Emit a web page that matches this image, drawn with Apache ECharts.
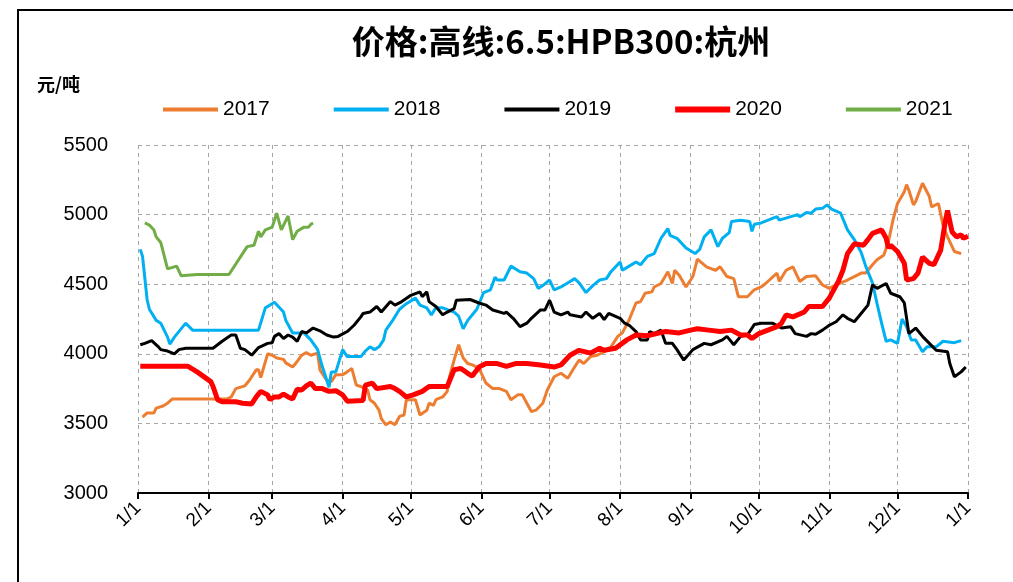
<!DOCTYPE html>
<html>
<head>
<meta charset="utf-8">
<script src="https://cdn.jsdelivr.net/npm/echarts@6/dist/echarts.min.js"></script>
<style>
  html, body { margin: 0; padding: 0; background: #fff; }
  #chart { width: 1013px; height: 582px; }
</style>
</head>
<body>
<div id="chart"></div>
<script>
// month starts (day of year, non-leap) and their tick labels
var monthStarts = [0, 31, 59, 90, 120, 151, 181, 212, 243, 273, 304, 334, 365]
var monthLabels = ['1/1', '2/1', '3/1', '4/1', '5/1', '6/1', '7/1', '8/1', '9/1', '10/1', '11/1', '12/1', '1/1']

var seriesNames = ['2017', '2018', '2019', '2020', '2021']
var seriesColors = ['#ED7D31', '#00B0F0', '#000000', '#FF0000', '#70AD47']

// [day of year, 元/吨]
var data2017 = [[2,3545],[4,3575],[7,3575],[8,3610],[11,3625],[13,3645],[15,3675],[39,3675],[41,3690],[43,3750],[47,3770],[49,3810],[52,3885],[53,3885],[54,3830],[57,4000],[59,3990],[61,3970],[64,3960],[65,3935],[68,3905],[70,3945],[72,3990],[74,4010],[76,3990],[79,4005],[80,3885],[83,3810],[85,3800],[87,3850],[90,3850],[92,3870],[94,3895],[96,3775],[98,3765],[101,3740],[102,3670],[104,3645],[106,3595],[107,3535],[109,3490],[111,3510],[113,3490],[115,3550],[117,3560],[118,3670],[122,3670],[124,3560],[127,3595],[128,3645],[130,3630],[131,3670],[134,3690],[136,3730],[137,3835],[139,3955],[141,4065],[143,3970],[145,3930],[147,3920],[150,3895],[153,3790],[156,3750],[159,3750],[162,3730],[164,3670],[167,3705],[169,3705],[171,3645],[173,3585],[175,3595],[178,3645],[180,3740],[183,3835],[186,3860],[189,3825],[192,3905],[194,3955],[196,3930],[199,3980],[202,3990],[205,4015],[208,4050],[211,4125],[213,4150],[216,4245],[219,4365],[221,4375],[223,4435],[226,4445],[227,4480],[230,4505],[233,4590],[235,4505],[236,4600],[238,4565],[241,4480],[244,4555],[246,4680],[250,4625],[254,4600],[256,4625],[259,4555],[262,4540],[264,4410],[268,4410],[271,4460],[274,4480],[276,4505],[281,4580],[282,4520],[285,4600],[288,4625],[291,4520],[294,4555],[298,4560],[301,4495],[304,4470],[307,4495],[312,4530],[315,4555],[318,4580],[320,4580],[323,4640],[325,4675],[328,4710],[330,4805],[332,4960],[334,5080],[337,5165],[338,5215],[339,5175],[341,5070],[342,5095],[345,5225],[348,5130],[349,5055],[352,5080],[354,4925],[356,4840],[359,4735],[362,4720]]

var data2018 = [[1,4750],[2,4700],[4,4390],[5,4320],[8,4240],[10,4220],[13,4120],[14,4070],[16,4120],[21,4220],[24,4170],[53,4170],[56,4330],[57,4340],[60,4370],[64,4300],[65,4240],[68,4150],[73,4150],[76,4100],[79,4030],[81,3910],[84,3760],[85,3870],[87,3870],[90,4030],[92,3980],[98,3980],[100,4020],[102,4050],[104,4030],[106,4050],[108,4100],[109,4170],[112,4240],[115,4320],[118,4360],[122,4400],[124,4350],[127,4330],[129,4280],[131,4330],[134,4330],[139,4300],[141,4270],[143,4180],[145,4240],[149,4320],[152,4440],[155,4460],[157,4550],[158,4530],[161,4530],[164,4630],[168,4590],[171,4580],[174,4540],[176,4470],[178,4490],[181,4530],[183,4460],[186,4480],[190,4520],[192,4540],[194,4510],[197,4440],[200,4490],[203,4530],[206,4540],[208,4590],[212,4660],[213,4600],[216,4630],[219,4660],[221,4640],[224,4700],[227,4720],[230,4830],[233,4900],[234,4850],[237,4830],[241,4760],[245,4720],[247,4750],[249,4840],[252,4890],[255,4770],[257,4830],[260,4870],[261,4950],[265,4960],[269,4950],[270,4880],[271,4930],[274,4940],[281,4985],[282,4960],[290,5000],[291,4985],[294,5015],[296,5010],[298,5040],[301,5045],[303,5070],[305,5040],[309,5010],[312,4890],[315,4820],[318,4730],[320,4630],[323,4510],[325,4360],[327,4220],[329,4090],[331,4100],[334,4075],[336,4250],[338,4195],[340,4100],[342,4100],[345,4015],[347,4050],[351,4050],[354,4090],[359,4080],[362,4095]]

var data2019 = [[1,4065],[3,4075],[6,4095],[9,4050],[10,4030],[13,4020],[16,4000],[18,4030],[21,4040],[33,4040],[37,4090],[41,4135],[43,4135],[45,4040],[47,4030],[50,3990],[53,4045],[57,4075],[59,4080],[60,4125],[62,4145],[64,4110],[66,4135],[68,4120],[70,4090],[72,4160],[74,4150],[77,4185],[80,4165],[83,4135],[86,4120],[88,4125],[92,4160],[95,4205],[98,4265],[99,4290],[102,4300],[105,4340],[107,4300],[111,4375],[113,4350],[116,4375],[120,4420],[124,4445],[125,4410],[127,4445],[128,4375],[131,4340],[134,4280],[136,4300],[139,4325],[140,4385],[146,4390],[150,4365],[153,4350],[156,4315],[161,4290],[162,4300],[165,4255],[168,4195],[171,4220],[173,4255],[177,4315],[179,4315],[181,4385],[183,4300],[186,4280],[189,4300],[190,4280],[195,4265],[197,4300],[200,4255],[203,4290],[205,4245],[207,4290],[212,4255],[214,4220],[216,4205],[219,4160],[221,4100],[224,4100],[225,4160],[227,4145],[230,4170],[232,4075],[235,4075],[237,4030],[240,3955],[244,4030],[249,4075],[252,4065],[257,4100],[259,4125],[262,4065],[265,4125],[268,4135],[271,4210],[274,4220],[279,4220],[283,4185],[287,4195],[289,4145],[294,4125],[296,4145],[298,4140],[301,4170],[304,4205],[307,4230],[310,4280],[312,4255],[315,4230],[318,4290],[321,4350],[323,4495],[325,4470],[329,4505],[331,4435],[335,4410],[337,4365],[339,4145],[342,4185],[345,4125],[348,4075],[351,4025],[356,4015],[357,3930],[359,3835],[362,3870],[364,3905]]

var data2020 = [[1,3910],[22,3910],[26,3870],[32,3800],[33,3765],[35,3670],[37,3655],[43,3655],[46,3645],[50,3640],[52,3690],[54,3730],[57,3705],[58,3670],[60,3690],[62,3690],[64,3710],[66,3690],[68,3675],[70,3745],[72,3740],[74,3770],[76,3790],[78,3750],[81,3750],[84,3730],[87,3735],[90,3705],[92,3660],[99,3665],[100,3775],[103,3790],[105,3750],[111,3765],[113,3750],[115,3730],[118,3690],[121,3705],[125,3730],[128,3765],[136,3765],[139,3885],[142,3895],[145,3860],[147,3840],[150,3905],[153,3930],[158,3930],[162,3910],[166,3930],[171,3930],[177,3920],[183,3905],[186,3920],[190,3990],[194,4025],[199,4005],[203,4040],[205,4025],[210,4040],[215,4100],[219,4135],[224,4130],[228,4145],[232,4160],[238,4150],[243,4170],[246,4180],[251,4170],[256,4160],[261,4170],[265,4135],[268,4135],[270,4110],[273,4145],[281,4195],[283,4220],[285,4280],[288,4265],[293,4300],[295,4340],[301,4340],[304,4400],[308,4520],[310,4600],[312,4720],[315,4790],[319,4780],[321,4820],[323,4865],[327,4890],[329,4830],[330,4760],[331,4780],[334,4735],[337,4650],[338,4530],[341,4540],[343,4580],[345,4695],[348,4650],[350,4640],[353,4745],[355,4950],[356,5030],[358,4875],[360,4840],[362,4855],[363,4830],[365,4845]]

var data2021 = [[3,4940],[5,4925],[7,4890],[8,4840],[10,4800],[13,4610],[17,4630],[19,4560],[26,4570],[40,4570],[48,4770],[51,4780],[53,4880],[54,4840],[56,4890],[59,4910],[61,5010],[63,4890],[66,4990],[68,4820],[70,4880],[73,4910],[75,4910],[76,4930],[77,4940]]

var allData = [data2017, data2018, data2019, data2020, data2021]
var lineWidths = [3, 3, 3, 5, 3]

// one category per day; labels only at month starts
var days = []
for (var i = 0; i <= 365; i++) {
  days.push(String(i))
}
function isMonthStart(idx) {
  return monthStarts.indexOf(idx) !== -1
}

var chart = echarts.init(document.getElementById('chart'), null, { renderer: 'canvas' })

chart.setOption({
  animation: false,
  backgroundColor: '#fff',
  title: {
    text: '价格:高线:6.5:HPB300:杭州',
    left: 556,
    top: 20,
    textAlign: 'center',
    textStyle: {
      fontSize: 33,
      fontWeight: 'bold',
      fontFamily: 'Noto Sans CJK SC',
      color: '#000'
    }
  },
  graphic: [
    {
      type: 'rect',
      shape: { x: 18, y: 10, width: 1100, height: 700 },
      style: { fill: 'none', stroke: '#000', lineWidth: 2 },
      silent: true
    },
    {
      type: 'text',
      left: 37,
      top: 75,
      style: {
        text: '元/吨',
        font: 'bold 18px "Noto Sans CJK SC"',
        fill: '#000'
      }
    }
  ],
  legend: {
    left: 158,
    top: 94,
    itemWidth: 55,
    itemHeight: 6,
    itemGap: 64,
    textStyle: {
      fontSize: 21,
      fontFamily: 'Liberation Sans',
      color: '#000'
    },
    data: seriesNames.map(function(n, i) {
      return {
        name: n,
        icon: i === 3 ? 'path://M0,0h55v6h-55z' : 'path://M0,0h55v4h-55z'
      }
    })
  },
  grid: {
    left: 138,
    right: 45,
    top: 145,
    bottom: 89
  },
  xAxis: {
    type: 'category',
    data: days,
    boundaryGap: false,
    axisLine: { lineStyle: { color: '#000', width: 2 } },
    axisTick: {
      interval: function(idx) { return isMonthStart(idx) },
      length: 6,
      lineStyle: { color: '#000', width: 2 }
    },
    axisLabel: {
      interval: function(idx) { return isMonthStart(idx) },
      formatter: function(val) {
        return monthLabels[monthStarts.indexOf(Number(val))]
      },
      rotate: 45,
      margin: 12,
      fontSize: 19,
      fontFamily: 'Liberation Sans',
      color: '#000'
    },
    splitLine: {
      show: true,
      interval: function(idx) { return isMonthStart(idx) },
      lineStyle: { color: '#A6A6A6', type: [4, 4], width: 1 }
    }
  },
  yAxis: {
    type: 'value',
    min: 3000,
    max: 5500,
    interval: 500,
    axisLine: { show: false },
    axisTick: { show: false },
    axisLabel: {
      margin: 30,
      fontSize: 20,
      fontFamily: 'Liberation Sans',
      color: '#000',
      formatter: function(v) { return String(v) }
    },
    splitLine: {
      lineStyle: { color: '#A6A6A6', type: [4, 4], width: 1 }
    }
  },
  series: seriesNames.map(function(n, i) {
    return {
      name: n,
      type: 'line',
      data: allData[i],
      showSymbol: false,
      symbol: 'none',
      color: seriesColors[i],
      lineStyle: { color: seriesColors[i], width: lineWidths[i] }
    }
  })
})
</script>
</body>
</html>
